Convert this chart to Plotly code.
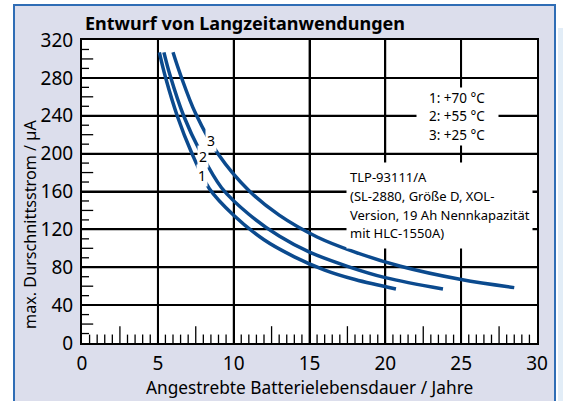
import plotly.graph_objects as go

# Average current vs. targeted battery life for three operating temperatures
life_70 = [5.1, 5.5, 6.3, 7.2, 8.4, 10.0, 12.0, 14.0, 16.0, 18.0, 20.7]
curr_70 = [307, 281, 239, 202, 163, 135, 109, 91, 77, 67, 57]

life_55 = [5.4, 5.8, 6.7, 7.8, 9.2, 11.0, 13.0, 15.0, 17.5, 20.0, 23.8]
curr_55 = [307, 283, 240, 202, 164, 136, 113, 96, 81, 69, 57]

life_25 = [6.0, 6.5, 7.5, 9.0, 11.0, 13.0, 15.5, 18.0, 21.0, 25.0, 28.5]
curr_25 = [307, 283, 242, 199, 161, 135, 112, 96, 81, 67, 58.5]

curve_ids = ["1", "2", "3"]
curve_label_pos = [(7.9, 177), (8.0, 197), (8.5, 214)]

x_ticks = [0, 5, 10, 15, 20, 25, 30]
y_ticks = [0, 40, 80, 120, 160, 200, 240, 280, 320]

# small inside ticks: every 0.5 years / 10 µA, longer ones half-way between labels
x_minor_step, y_minor_step = 0.5, 10
x_half_ticks = [2.5, 7.5, 12.5, 17.5, 22.5, 27.5]
y_half_ticks = [20, 60, 100, 140, 180, 220, 260, 300]

legend_lines = ["1: +70 °C", "2: +55 °C", "3: +25 °C"]
info_lines = ["TLP-93111/A", "(SL-2880, Größe D, XOL-",
              "Version, 19 Ah Nennkapazität", "mit HLC-1550A)"]

FONT = "Noto Sans"
CURVE_COLOR = "#0b4a8e"
FRAME_FILL = "#dcdeec"
FRAME_LINE = "#2f6db5"

# page and plot-area geometry in pixels
W, H = 563, 401
L, R, T, B = 82, 26, 40, 58
pw, ph = W - L - R, H - T - B


def px_x(px):
    return (px - L) / pw


def px_y(py):
    return (H - B - py) / ph


def dx(px):
    # horizontal pixel offset -> x data units
    return px * 30 / pw


def dy(px):
    # vertical pixel offset -> y data units
    return px * 320 / ph


x_small = [i * x_minor_step for i in range(1, int(x_ticks[-1] / x_minor_step))]
x_small = [v for v in x_small if v % 2.5 != 0]
y_small = [i * y_minor_step for i in range(1, int(y_ticks[-1] / y_minor_step))]
y_small = [v for v in y_small if v % 20 != 0]

fig = go.Figure()

for xs, ys in [(life_70, curr_70), (life_55, curr_55), (life_25, curr_25)]:
    fig.add_trace(go.Scatter(
        x=xs, y=ys, mode="lines",
        line=dict(color=CURVE_COLOR, width=3.5, shape="spline", smoothing=1.0),
        hoverinfo="skip", showlegend=False,
    ))

# inside ticks drawn as clipped line markers sitting on the axes
for xs, ys, sym, size in [
    (x_small, [0] * len(x_small), "line-ns", 12),
    (x_half_ticks, [0] * len(x_half_ticks), "line-ns", 24),
    ([0] * len(y_small), y_small, "line-ew", 10),
    ([0] * len(y_half_ticks), y_half_ticks, "line-ew", 16),
]:
    fig.add_trace(go.Scatter(
        x=xs, y=ys, mode="markers",
        marker=dict(symbol=sym, size=size,
                    line=dict(color="black", width=1.3)),
        cliponaxis=True, hoverinfo="skip", showlegend=False,
    ))

axis_common = dict(
    showgrid=True, gridcolor="black", gridwidth=1.8,
    zeroline=False,
    showline=True, linecolor="black", linewidth=2, mirror=True,
    ticks="outside", tickcolor="rgba(0,0,0,0)",
    tickfont=dict(family=FONT, size=19, color="black"),
)

fig.update_layout(
    width=W, height=H,
    margin=dict(l=L, r=R, t=T, b=B, pad=0),
    paper_bgcolor=FRAME_FILL,
    plot_bgcolor="white",
    showlegend=False,
    xaxis=dict(
        range=[x_ticks[0], x_ticks[-1]], tickmode="linear",
        tick0=x_ticks[0], dtick=x_ticks[1] - x_ticks[0], ticklen=2,
        **axis_common,
    ),
    yaxis=dict(
        range=[y_ticks[0], y_ticks[-1]], tickmode="linear",
        tick0=y_ticks[0], dtick=y_ticks[1] - y_ticks[0], ticklen=3,
        **axis_common,
    ),
)

# grid at the labelled ticks, beneath the curves
for t in x_ticks[1:-1]:
    fig.add_shape(type="line", xref="x", yref="y", layer="below",
                  x0=t, x1=t, y0=y_ticks[0], y1=y_ticks[-1],
                  line=dict(color="black", width=1.8))
for t in y_ticks[1:-1]:
    fig.add_shape(type="line", xref="x", yref="y", layer="below",
                  x0=x_ticks[0], x1=x_ticks[-1], y0=t, y1=t,
                  line=dict(color="black", width=1.8))

# page around the framed chart
for x0, x1, y0, y1, col in [
    (-5, W + 5, -5, 5, "white"),
    (-5, 14, -5, H + 5, "white"),
    (555, W + 5, -5, H + 5, "white"),
    (558, W + 5, 28, H + 5, "#e2edf7"),
]:
    fig.add_shape(type="rect", xref="paper", yref="paper", layer="above",
                  x0=px_x(x0), x1=px_x(x1), y0=px_y(y1), y1=px_y(y0),
                  fillcolor=col, line=dict(width=0))
fig.add_shape(type="rect", xref="paper", yref="paper", layer="above",
              x0=px_x(14), x1=px_x(555), y0=px_y(410), y1=px_y(5),
              fillcolor="rgba(0,0,0,0)", line=dict(color=FRAME_LINE, width=2))

# title
fig.add_annotation(text="<b>Entwurf von Langzeitanwendungen</b>",
                   xref="paper", yref="paper", x=px_x(83), y=px_y(23),
                   xanchor="left", yanchor="middle", showarrow=False,
                   font=dict(family=FONT, size=18, color="black"))

# axis titles
fig.add_annotation(text="Angestrebte Batterielebensdauer / Jahre",
                   xref="paper", yref="paper", x=0.5, y=px_y(387),
                   xanchor="center", yanchor="middle", showarrow=False,
                   font=dict(family=FONT, size=17.3, color="black"))
fig.add_annotation(text="max. Durschnittsstrom / µA",
                   xref="paper", yref="paper", x=px_x(30), y=px_y(225),
                   xanchor="center", yanchor="middle", showarrow=False,
                   textangle=-90,
                   font=dict(family=FONT, size=16.2, color="black"))

# curve numbers
for cid, (cx, cy) in zip(curve_ids, curve_label_pos):
    fig.add_annotation(text=cid, x=cx, y=cy, xref="x", yref="y",
                       showarrow=False, bgcolor="white", borderpad=1,
                       font=dict(family=FONT, size=14, color="black"))

# temperature key: white panel, then one line of text per row
key_cx, key_cy = 24.75, 239.5
fig.add_annotation(text=" ", x=key_cx, y=key_cy, xref="x", yref="y",
                   xanchor="center", yanchor="middle", showarrow=False,
                   width=81, height=57, bgcolor="white", borderpad=0)
for i, line in enumerate(legend_lines):
    fig.add_annotation(text=line, x=key_cx, y=key_cy + dy(18.5) * (1 - i),
                       xref="x", yref="y", xanchor="center",
                       yanchor="middle", showarrow=False,
                       font=dict(family=FONT, size=13.5, color="black"))

# battery description: white panel, then one line per row
info_x, info_top = 17.4, 191
fig.add_annotation(text=" ", x=info_x, y=info_top, xref="x", yref="y",
                   xanchor="left", yanchor="top", showarrow=False,
                   width=185, height=85, bgcolor="white", borderpad=0)
for i, line in enumerate(info_lines):
    fig.add_annotation(text=line, x=info_x + dx(2),
                       y=info_top - dy(15 + 18.7 * i),
                       xref="x", yref="y", xanchor="left", yanchor="middle",
                       showarrow=False,
                       font=dict(family=FONT, size=13, color="black"))

fig.write_html("out.html")
